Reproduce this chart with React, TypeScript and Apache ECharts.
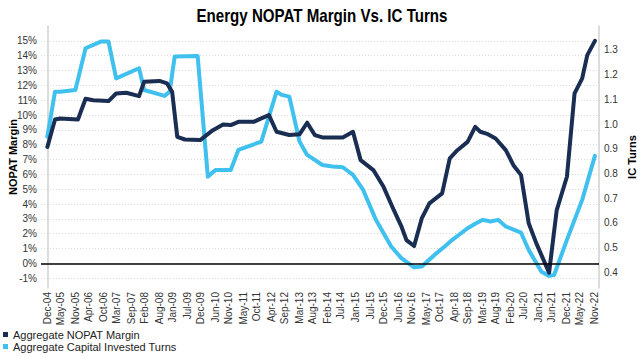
import React, { useEffect, useRef } from "react";
import * as echarts from "echarts";

const TITLE = "Energy NOPAT Margin Vs. IC Turns";

const TICK_LABELS = [
  "Dec-04", "May-05", "Nov-05", "Apr-06", "Oct-06", "Mar-07", "Sep-07", "Feb-08",
  "Aug-08", "Jan-09", "Jul-09", "Dec-09", "Jun-10", "Nov-10", "May-11", "Oct-11",
  "Apr-12", "Sep-12", "Mar-13", "Aug-13", "Feb-14", "Jul-14", "Jan-15", "Jul-15",
  "Dec-15", "Jun-16", "Nov-16", "May-17", "Oct-17", "Apr-18", "Sep-18", "Mar-19",
  "Aug-19", "Feb-20", "Jul-20", "Jan-21", "Jun-21", "Dec-21", "May-22", "Nov-22",
];

const LEFT_TICKS = [-1, 0, 1, 2, 3, 4, 5, 6, 7, 8, 9, 10, 11, 12, 13, 14, 15];
const RIGHT_TICKS = [0.4, 0.5, 0.6, 0.7, 0.8, 0.9, 1.0, 1.1, 1.2, 1.3];

// Aggregate NOPAT Margin (%)
const NOPAT_MARGIN: [string, number][] = [
  ["Dec-04", 7.85], ["Mar-05", 9.7], ["May-05", 9.77], ["Dec-05", 9.7],
  ["Mar-06", 11.1], ["Jun-06", 11.0], ["Dec-06", 10.94], ["Mar-07", 11.45],
  ["Jul-07", 11.5], ["Dec-07", 11.27], ["Feb-08", 12.24], ["Aug-08", 12.3],
  ["Nov-08", 12.13], ["Jan-09", 11.56], ["Mar-09", 8.53], ["Jun-09", 8.35],
  ["Dec-09", 8.31], ["May-10", 8.98], ["Sep-10", 9.36], ["Dec-10", 9.32],
  ["Mar-11", 9.54], ["Sep-11", 9.54], ["Dec-11", 9.77], ["Mar-12", 9.99],
  ["Jun-12", 8.87], ["Nov-12", 8.65], ["Mar-13", 8.7], ["Jun-13", 9.48],
  ["Sep-13", 8.65], ["Dec-13", 8.49], ["Aug-14", 8.49], ["Dec-14", 8.87],
  ["Mar-15", 6.96], ["Aug-15", 6.29], ["Dec-15", 5.16], ["Apr-16", 3.6],
  ["Jul-16", 2.5], ["Sep-16", 1.57], ["Dec-16", 1.17], ["Mar-17", 3.03],
  ["Jun-17", 4.04], ["Nov-17", 4.72], ["Feb-18", 7.08], ["May-18", 7.63],
  ["Sep-18", 8.19], ["Dec-18", 9.2], ["Feb-19", 8.87], ["May-19", 8.71],
  ["Aug-19", 8.42], ["Dec-19", 7.63], ["Mar-20", 6.62], ["Jun-20", 5.95],
  ["Sep-20", 2.7], ["Dec-20", 1.35], ["May-21", -0.63], ["Aug-21", 3.59],
  ["Dec-21", 5.84], ["Mar-22", 11.46], ["Jun-22", 12.47], ["Aug-22", 14.04],
  ["Nov-22", 15.0],
];

// Aggregate Capital Invested Turns
const IC_TURNS: [string, number][] = [
  ["Dec-04", 0.949], ["Mar-05", 1.131], ["May-05", 1.131], ["Nov-05", 1.138],
  ["Mar-06", 1.307], ["Sep-06", 1.334], ["Dec-06", 1.334], ["Mar-07", 1.185],
  ["Dec-07", 1.226], ["Feb-08", 1.138], ["Oct-08", 1.114], ["Dec-08", 1.131],
  ["Feb-09", 1.273], ["Nov-09", 1.276], ["Mar-10", 0.787], ["Jun-10", 0.814],
  ["Dec-10", 0.814], ["Mar-11", 0.895], ["Dec-11", 0.929], ["Jun-12", 1.131],
  ["Aug-12", 1.118], ["Nov-12", 1.111], ["Mar-13", 0.929], ["Jun-13", 0.875],
  ["Dec-13", 0.834], ["Apr-14", 0.828], ["Aug-14", 0.825], ["Dec-14", 0.794],
  ["Apr-15", 0.733], ["Sep-15", 0.612], ["Mar-16", 0.504], ["Jul-16", 0.457],
  ["Dec-16", 0.42], ["Mar-17", 0.423], ["Aug-17", 0.47], ["Dec-17", 0.504],
  ["Mar-18", 0.531], ["Sep-18", 0.578], ["Dec-18", 0.596], ["Mar-19", 0.612],
  ["Jun-19", 0.605], ["Sep-19", 0.612], ["Dec-19", 0.585], ["Jun-20", 0.56],
  ["Sep-20", 0.49], ["Feb-21", 0.402], ["May-21", 0.385], ["Jul-21", 0.389],
  ["Dec-21", 0.531], ["Jun-22", 0.693], ["Nov-22", 0.871],
];

const MONTHS = ["Jan", "Feb", "Mar", "Apr", "May", "Jun", "Jul", "Aug", "Sep", "Oct", "Nov", "Dec"];
// month index relative to Dec-04
const monthIndex = (label: string): number => {
  const [mon, yy] = label.split("-");
  const year = 2000 + parseInt(yy, 10);
  return (year - 2004) * 12 + MONTHS.indexOf(mon) - 11;
};

const FONT = "'Liberation Sans', Arial, sans-serif";
const DARK = "#1a2d52";
const LIGHT = "#3fc0ee";

export default function App() {
  const ref = useRef<HTMLDivElement>(null);

  useEffect(() => {
    if (!ref.current) return;
    const chart = echarts.init(ref.current, null, { renderer: "svg" });
    const tickIdx = TICK_LABELS.map(monthIndex);
    const labelByIdx: Record<number, string> = {};
    TICK_LABELS.forEach((l) => (labelByIdx[monthIndex(l)] = l));

    chart.setOption({
      animation: false,
      backgroundColor: "#ffffff",
      textStyle: { fontFamily: FONT },
      graphic: [
        {
          type: "text",
          x: 322,
          y: 16,
          scaleX: 0.84,
          style: {
            text: TITLE,
            font: `bold 18px ${FONT}`,
            fill: "#000",
            align: "center",
            verticalAlign: "middle",
          },
        },
      ],
      legend: {
        orient: "vertical",
        left: 3,
        top: 329,
        padding: 0,
        itemWidth: 5,
        itemHeight: 5,
        itemGap: 1,
        icon: "rect",
        textStyle: { fontSize: 11, color: "#222", fontFamily: FONT },
        data: ["Aggregate NOPAT Margin", "Aggregate Capital Invested Turns"],
      },
      grid: { left: 41, right: 41, top: 26, bottom: 69, containLabel: false, outerBoundsMode: "none" },
      xAxis: {
        type: "value",
        min: -2.5,
        max: 216.6,
        axisLine: { show: false },
        axisTick: { show: false },
        splitLine: { show: false },
        axisLabel: {
          customValues: tickIdx,
          rotate: 90,
          fontSize: 10,
          color: "#333",
          margin: 4,
          fontFamily: FONT,
          formatter: (v: number) => labelByIdx[Math.round(v)] ?? "",
        },
      },
      yAxis: [
        {
          type: "value",
          min: -1.66,
          max: 16,
          name: "NOPAT Margin",
          nameLocation: "middle",
          nameRotate: 90,
          nameGap: 23,
          nameMoveOverlap: false,
          nameTextStyle: { fontSize: 11, fontWeight: "bold", color: "#000", fontFamily: FONT },
          axisLine: { show: true, lineStyle: { color: "#d0d0d0", width: 1.5 } },
          axisTick: { show: false, customValues: LEFT_TICKS },
          axisLabel: {
            customValues: LEFT_TICKS,
            formatter: (v: number) => `${Math.round(v)}%`,
            fontSize: 10,
            color: "#333",
            margin: 4,
            fontFamily: FONT,
          },
          splitLine: { show: true, lineStyle: { color: "#dcdcdc", type: [1, 2], width: 1 } },
        },
        {
          type: "value",
          min: 0.336,
          max: 1.397,
          name: "IC Turns",
          nameLocation: "middle",
          nameRotate: 90,
          nameGap: 27,
          nameMoveOverlap: false,
          nameTextStyle: { fontSize: 11, fontWeight: "bold", color: "#000", fontFamily: FONT },
          axisLine: { show: true, lineStyle: { color: "#d0d0d0", width: 1.5 } },
          axisTick: { show: false, customValues: RIGHT_TICKS },
          axisLabel: {
            customValues: RIGHT_TICKS,
            formatter: (v: number) => v.toFixed(1),
            fontSize: 10,
            color: "#333",
            margin: 5,
            fontFamily: FONT,
          },
          splitLine: { show: false },
        },
      ],
      series: [
        {
          name: "Aggregate NOPAT Margin",
          type: "line",
          yAxisIndex: 0,
          data: NOPAT_MARGIN.map(([d, v]) => [monthIndex(d), v]),
          showSymbol: false,
          lineStyle: { color: DARK, width: 4, join: "round", cap: "round" },
          itemStyle: { color: DARK },
          z: 3,
          markLine: {
            silent: true,
            symbol: "none",
            label: { show: false },
            lineStyle: { color: "#000", width: 1.5, type: "solid" },
            data: [{ yAxis: 0 }],
          },
        },
        {
          name: "Aggregate Capital Invested Turns",
          type: "line",
          yAxisIndex: 1,
          data: IC_TURNS.map(([d, v]) => [monthIndex(d), v]),
          showSymbol: false,
          lineStyle: { color: LIGHT, width: 4, join: "round", cap: "round" },
          itemStyle: { color: LIGHT },
          z: 2,
        },
      ],
    });
    return () => chart.dispose();
  }, []);

  return <div ref={ref} style={{ width: 640, height: 357, position: "absolute", left: 0, top: 0 }} />;
}
